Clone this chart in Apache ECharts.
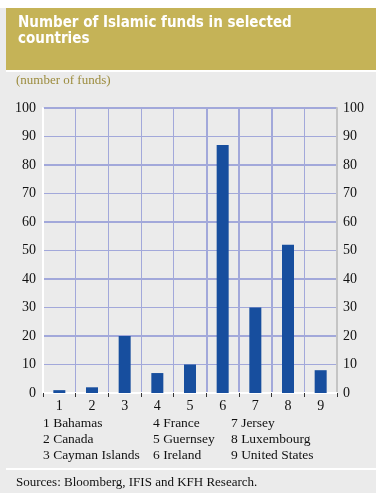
<!DOCTYPE html>
<html>
<head>
<meta charset="utf-8">
<script src="https://cdn.jsdelivr.net/npm/echarts@6/dist/echarts.min.js"></script>
<style>
  html, body { margin: 0; padding: 0; background: #fff; }
  #chart { width: 376px; height: 493px; }
</style>
</head>
<body>
<div id="chart"></div>
<script>
// data
const categories = ['1', '2', '3', '4', '5', '6', '7', '8', '9']
const countries = ['Bahamas', 'Canada', 'Cayman Islands', 'France', 'Guernsey', 'Ireland', 'Jersey', 'Luxembourg', 'United States']
const funds = [1, 2, 20, 7, 10, 87, 30, 52, 8]
const yMin = 0
const yMax = 100
const yStep = 10

const GOLD = '#c5b357'
const GRID = '#a2a8da'
const BAR = '#174e9e'
const SERIF = 'Liberation Serif, Times New Roman, serif'

// legend block: 3 columns of "n Country"
const legendText = []
countries.forEach((name, i) => {
  const col = Math.floor(i / 3)
  const row = i % 3
  legendText.push({
    type: 'text',
    left: [43, 153, 231][col],
    top: 416 + row * 16,
    style: { text: categories[i] + ' ' + name, font: '13.5px ' + SERIF, fill: '#111' }
  })
})

let chart = echarts.init(document.getElementById('chart'))
chart.setOption({
  backgroundColor: '#ebebeb',
  animation: false,
  graphic: [
    { type: 'rect', left: 0, top: 0, shape: { width: 376, height: 8 }, style: { fill: '#fff' } },
    { type: 'rect', left: 6, top: 8, shape: { width: 370, height: 62 }, style: { fill: GOLD } },
    { type: 'rect', left: 6, top: 70, shape: { width: 370, height: 2 }, style: { fill: '#fff' } },
    {
      type: 'text', left: 18, top: 15,
      style: {
        text: 'Number of Islamic funds in selected\ncountries',
        font: 'bold 15px "DejaVu Sans Condensed", "Liberation Sans Narrow", sans-serif',
        lineHeight: 16, fill: '#fff'
      }
    },
    {
      type: 'text', left: 16, top: 74,
      style: { text: '(number of funds)', font: '13px ' + SERIF, fill: '#9c8c3e' }
    },
    ...legendText,
    { type: 'rect', left: 6, top: 468, shape: { width: 370, height: 2 }, style: { fill: '#fff' } },
    {
      type: 'text', left: 16, top: 476,
      style: { text: 'Sources: Bloomberg, IFIS and KFH Research.', font: '13px ' + SERIF, fill: '#111' }
    }
  ],
  grid: { left: 43, right: 39, top: 108, bottom: 100 },
  xAxis: [
    {
      type: 'category',
      data: categories,
      boundaryGap: true,
      axisLine: { lineStyle: { color: '#fff', width: 2 } },
      axisTick: { show: true, length: 4, lineStyle: { color: '#333' } },
      axisLabel: { color: '#111', fontFamily: SERIF, fontSize: 14, margin: 6 },
      splitLine: { show: true, lineStyle: { color: GRID, width: 1 } }
    },
    {
      // heavier verticals around bar 6 and 7
      type: 'value',
      min: 0,
      max: 9,
      interval: 1,
      position: 'bottom',
      axisLine: { show: false },
      axisTick: { show: false },
      axisLabel: { show: false },
      splitLine: {
        show: true,
        lineStyle: {
          width: 2,
          color: ['transparent', 'transparent', 'transparent', 'transparent', 'transparent', GRID, GRID, GRID, 'transparent', 'transparent']
        }
      }
    }
  ],
  yAxis: [
    {
      type: 'value',
      min: yMin,
      max: yMax,
      interval: yStep,
      position: 'left',
      axisLine: { show: true, lineStyle: { color: '#fff', width: 2 } },
      axisTick: { show: false },
      axisLabel: { color: '#111', fontFamily: SERIF, fontSize: 14, margin: 7 },
      splitLine: { show: true, lineStyle: { color: GRID, width: 1 } }
    },
    {
      type: 'value',
      min: yMin,
      max: yMax,
      interval: yStep,
      position: 'right',
      axisLine: { show: true, lineStyle: { color: '#c4c4c4', width: 2 } },
      axisTick: { show: false },
      axisLabel: { color: '#111', fontFamily: SERIF, fontSize: 14, margin: 6 },
      splitLine: { show: false }
    },
    {
      // every second gridline drawn heavier
      type: 'value',
      min: yMin,
      max: yMax,
      interval: yStep * 2,
      position: 'left',
      axisLine: { show: false },
      axisTick: { show: false },
      axisLabel: { show: false },
      splitLine: { show: true, lineStyle: { color: GRID, width: 2 } }
    }
  ],
  series: [
    {
      type: 'bar',
      xAxisIndex: 0,
      yAxisIndex: 0,
      data: funds,
      barWidth: 12,
      itemStyle: { color: BAR },
      z: 5
    }
  ]
}, true)
window.addEventListener('resize', () => { chart.resize() })
</script>
</body>
</html>
